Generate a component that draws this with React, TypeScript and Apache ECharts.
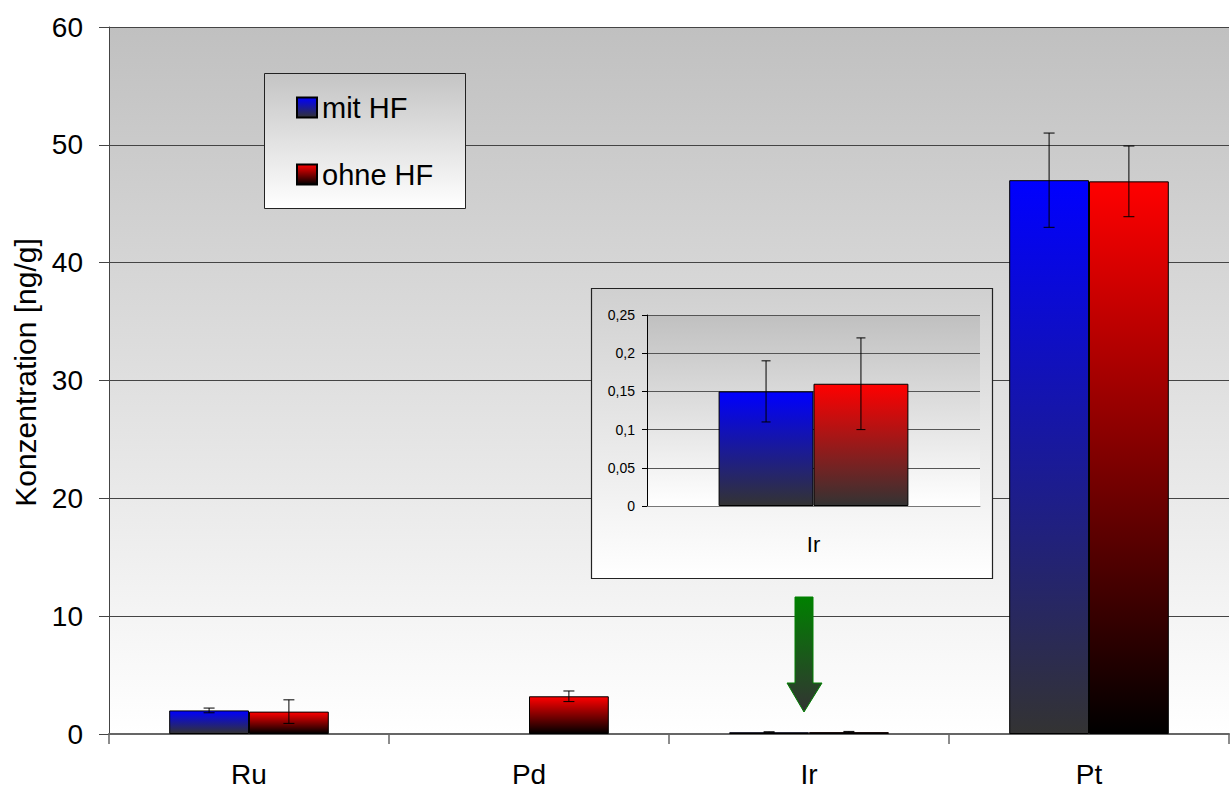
import { useEffect, useRef } from 'react';
import * as echarts from 'echarts';

// Element concentrations with and without HF digestion
const categories = ['Ru', 'Pd', 'Ir', 'Pt'];
const seriesNames = ['mit HF', 'ohne HF'];
const mitHF: (number | null)[] = [2.0, null, 0.15, 47.0];
const mitHFErr: (number | null)[] = [0.2, null, 0.04, 4.0];
const ohneHF: (number | null)[] = [1.9, 3.2, 0.16, 46.9];
const ohneHFErr: (number | null)[] = [1.0, 0.45, 0.06, 3.0];

// Main axis range
const yMin = 0;
const yMax = 60;
const yStep = 10;

// Zoomed-in panel for iridium
const insetCategoryIndex = 2;
const insetMin = 0;
const insetMax = 0.25;
const insetStep = 0.05;

const GAP_RATIO = 0.43;
const FONT = '"Liberation Sans", Arial, Helvetica, sans-serif';

const grad = (top: string, bottom: string) =>
  new echarts.graphic.LinearGradient(0, 0, 0, 1, [
    { offset: 0, color: top },
    { offset: 1, color: bottom },
  ]);

// [categoryIndex, low, high, side]
function errorRows(values: (number | null)[], errs: (number | null)[], side: number, only?: number) {
  const rows: number[][] = [];
  values.forEach((v, i) => {
    if (v == null || errs[i] == null) return;
    if (only != null && i !== only) return;
    const e = errs[i] as number;
    rows.push([only != null ? 0 : i, v - e, v + e, side]);
  });
  return rows;
}

function errorRenderer(capWidth: number) {
  return (_params: any, api: any) => {
    const cat = api.value(0);
    const lo = api.value(1);
    const hi = api.value(2);
    const side = api.value(3);
    const band = api.size([1, 0])[0];
    const barW = (band * (1 - GAP_RATIO)) / 2;
    const pLo = api.coord([cat, lo]);
    const pHi = api.coord([cat, hi]);
    const x = pLo[0] + (side * barW) / 2;
    const style = { stroke: '#000', lineWidth: 1 };
    return {
      type: 'group',
      children: [
        { type: 'line', shape: { x1: x, y1: pLo[1], x2: x, y2: pHi[1] }, style },
        { type: 'line', shape: { x1: x - capWidth / 2, y1: pHi[1], x2: x + capWidth / 2, y2: pHi[1] }, style },
        { type: 'line', shape: { x1: x - capWidth / 2, y1: pLo[1], x2: x + capWidth / 2, y2: pLo[1] }, style },
      ],
    };
  };
}

const commaFormat = (v: number) => String(Number(v.toFixed(2))).replace('.', ',');

export default function App() {
  const ref = useRef<HTMLDivElement>(null);

  useEffect(() => {
    if (!ref.current) return;
    const chart = echarts.init(ref.current, undefined, { renderer: 'svg' });

    const blueMain = grad('#0000ff', '#333333');
    const redMain = grad('#ff0000', '#000000');
    const blueInset = grad('#0000ff', '#333333');
    const redInset = grad('#ff0000', '#333333');

    const option: echarts.EChartsOption = {
      animation: false,
      backgroundColor: '#ffffff',
      textStyle: { fontFamily: FONT, color: '#000' },
      grid: [
        {
          left: 109,
          top: 27,
          right: 2,
          bottom: 55,
          show: true,
          borderWidth: 0,
          backgroundColor: grad('#c0c0c0', '#ffffff') as any,
        },
        {
          left: 647,
          top: 315,
          width: 333,
          height: 191,
          show: true,
          borderWidth: 0,
          z: 10,
          backgroundColor: grad('#c0c0c0', '#ffffff') as any,
        },
      ],
      legend: {
        orient: 'vertical',
        left: 296,
        top: 93,
        padding: 0,
        itemWidth: 20,
        itemHeight: 20,
        itemGap: 38,
        icon: 'rect',
        z: 4,
        data: seriesNames,
        textStyle: { fontSize: 29, fontFamily: FONT, color: '#000' },
      },
      xAxis: [
        {
          type: 'category',
          gridIndex: 0,
          data: categories,
          axisLine: { lineStyle: { color: '#666', width: 2 } },
          axisTick: { show: true, length: 10, lineStyle: { color: '#666', width: 1.5 } },
          axisLabel: { fontSize: 28, color: '#000', margin: 26, fontFamily: FONT },
        },
        {
          type: 'category',
          gridIndex: 1,
          data: [categories[insetCategoryIndex]],
          z: 11,
          axisLine: { lineStyle: { color: '#777', width: 1 } },
          axisTick: { show: false },
          axisLabel: { fontSize: 22, color: '#000', margin: 27, fontFamily: FONT },
        },
      ],
      yAxis: [
        {
          type: 'value',
          gridIndex: 0,
          min: yMin,
          max: yMax,
          interval: yStep,
          name: 'Konzentration [ng/g]',
          nameLocation: 'middle',
          nameRotate: 90,
          nameGap: 65,
          nameTextStyle: { fontSize: 30, color: '#000', fontFamily: FONT, padding: [0, 0, 0, 16] },
          axisLine: { show: true, lineStyle: { color: '#444', width: 1 } },
          axisTick: { show: true, length: 10, lineStyle: { color: '#444', width: 1 } },
          axisLabel: { fontSize: 28, color: '#000', margin: 26, fontFamily: FONT },
          splitLine: { show: true, lineStyle: { color: '#444', width: 1 } },
        },
        {
          type: 'value',
          gridIndex: 1,
          min: insetMin,
          max: insetMax,
          interval: insetStep,
          z: 11,
          axisLine: { show: true, lineStyle: { color: '#000', width: 1 } },
          axisTick: { show: true, length: 5, lineStyle: { color: '#000', width: 1 } },
          axisLabel: { fontSize: 14, color: '#000', margin: 12, fontFamily: FONT, formatter: commaFormat },
          splitLine: { show: true, lineStyle: { color: '#555', width: 1 } },
        },
      ],
      graphic: {
        elements: [
          // legend frame
          {
            type: 'rect',
            z: 3,
            shape: { x: 264.5, y: 73.5, width: 201, height: 135 },
            style: { fill: grad('#c4c4c4', '#ffffff') as any, stroke: '#222', lineWidth: 1 },
          },
          // frame of the iridium panel
          {
            type: 'rect',
            z: 9,
            shape: { x: 591.5, y: 288.5, width: 401, height: 290 },
            style: { fill: grad('#d0d0d0', '#ffffff') as any, stroke: '#222', lineWidth: 1.2 },
          },
          // arrow pointing at the iridium bars
          {
            type: 'polygon',
            z: 5,
            shape: {
              points: [
                [795, 597],
                [813, 597],
                [813, 683],
                [822, 683],
                [804, 712],
                [787, 683],
                [795, 683],
              ],
            },
            style: { fill: grad('#008000', '#333333') as any, stroke: '#008000', lineWidth: 1 },
          },
        ],
      },
      series: [
        {
          name: seriesNames[0],
          type: 'bar',
          xAxisIndex: 0,
          yAxisIndex: 0,
          data: mitHF,
          barGap: '0%',
          barCategoryGap: '43%',
          itemStyle: { color: blueMain as any, borderColor: '#000', borderWidth: 1 },
        },
        {
          name: seriesNames[1],
          type: 'bar',
          xAxisIndex: 0,
          yAxisIndex: 0,
          data: ohneHF,
          barGap: '0%',
          barCategoryGap: '43%',
          itemStyle: { color: redMain as any, borderColor: '#000', borderWidth: 1 },
        },
        {
          type: 'custom',
          xAxisIndex: 0,
          yAxisIndex: 0,
          z: 3,
          renderItem: errorRenderer(11) as any,
          encode: { x: 0, y: [1, 2] },
          data: [...errorRows(mitHF, mitHFErr, -1), ...errorRows(ohneHF, ohneHFErr, 1)],
          silent: true,
        },
        {
          name: seriesNames[0],
          type: 'bar',
          xAxisIndex: 1,
          yAxisIndex: 1,
          z: 12,
          data: [mitHF[insetCategoryIndex]],
          barGap: '0%',
          barCategoryGap: '43%',
          itemStyle: { color: blueInset as any, borderColor: '#000', borderWidth: 1 },
        },
        {
          name: seriesNames[1],
          type: 'bar',
          xAxisIndex: 1,
          yAxisIndex: 1,
          z: 12,
          data: [ohneHF[insetCategoryIndex]],
          barGap: '0%',
          barCategoryGap: '43%',
          itemStyle: { color: redInset as any, borderColor: '#000', borderWidth: 1 },
        },
        {
          type: 'custom',
          xAxisIndex: 1,
          yAxisIndex: 1,
          z: 13,
          renderItem: errorRenderer(9) as any,
          encode: { x: 0, y: [1, 2] },
          data: [
            ...errorRows(mitHF, mitHFErr, -1, insetCategoryIndex),
            ...errorRows(ohneHF, ohneHFErr, 1, insetCategoryIndex),
          ],
          silent: true,
        },
      ],
    };

    chart.setOption(option);
    return () => chart.dispose();
  }, []);

  return <div ref={ref} style={{ width: 1231, height: 789, position: 'absolute', left: 0, top: 0 }} />;
}
